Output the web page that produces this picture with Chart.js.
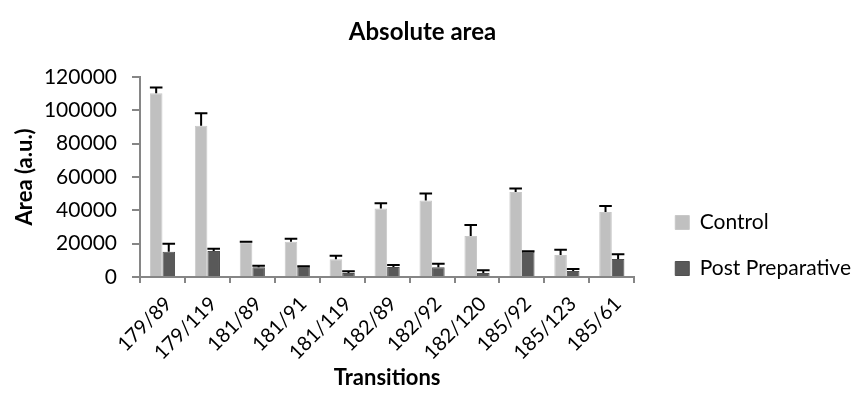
<!DOCTYPE html>
<html>
<head>
<meta charset="utf-8">
<script src="https://cdn.jsdelivr.net/npm/chart.js@4"></script>
<style>
  html, body { margin: 0; padding: 0; background: #fff; }
  #wrap { width: 857px; height: 405px; }
</style>
</head>
<body>
<div id="wrap"><canvas id="grafico" width="857" height="405"></canvas></div>
<script>
const transicoes = ['179/89', '179/119', '181/89', '181/91', '181/119', '182/89', '182/92', '182/120', '185/92', '185/123', '185/61'];
const controle = [110200, 90600, 20800, 21200, 10600, 41000, 45800, 24600, 51000, 13200, 39000];
const controleErro = [3400, 7600, 400, 1800, 2200, 3200, 4200, 6600, 2000, 3200, 3600];
const posPrep = [15200, 15600, 5800, 6200, 2400, 6000, 5800, 2400, 15200, 3600, 10800];
const posPrepErro = [4800, 1400, 1000, 300, 1000, 1200, 2200, 1600, 200, 1200, 2800];
const ticksY = [0, 20000, 40000, 60000, 80000, 100000, 120000];

const fonte = 'Lato, "Open Sans", sans-serif';
const corEixo = '#868686';

// barras de erro (só o lado de cima, como no Excel)
const barrasErro = {
  id: 'barrasErro',
  afterDatasetsDraw(chart) {
    const c = chart.ctx;
    const y = chart.scales.y;
    c.save();
    c.strokeStyle = '#000';
    c.lineWidth = 2;
    chart.data.datasets.forEach((ds, i) => {
      const meta = chart.getDatasetMeta(i);
      meta.data.forEach((bar, j) => {
        const topo = y.getPixelForValue(ds.data[j] + ds.erros[j]);
        const meia = bar.width / 2;
        c.beginPath();
        c.moveTo(bar.x, bar.y);
        c.lineTo(bar.x, topo);
        c.moveTo(bar.x - meia, topo);
        c.lineTo(bar.x + meia, topo);
        c.stroke();
      });
    });
    c.restore();
  }
};

// empurra a legenda um pouco para a direita e para baixo
const ajusteLegenda = {
  id: 'ajusteLegenda',
  afterLayout(chart) {
    const l = chart.legend;
    l.left += 16; l.right += 16;
    l.top += 187; l.bottom += 187;
  }
};

new Chart(document.getElementById('grafico'), {
  type: 'bar',
  data: {
    labels: transicoes,
    datasets: [
      {
        label: 'Control',
        data: controle,
        erros: controleErro,
        backgroundColor: '#c0c0c0',
        borderColor: '#c8c8c8',
        borderWidth: 1
      },
      {
        label: 'Post Preparative',
        data: posPrep,
        erros: posPrepErro,
        backgroundColor: '#595959',
        borderColor: '#505050',
        borderWidth: 1
      }
    ]
  },
  options: {
    responsive: false,
    animation: false,
    devicePixelRatio: 1,
    layout: { padding: { top: 0, right: 12, bottom: 0, left: 0 } },
    datasets: { bar: { categoryPercentage: 0.56, barPercentage: 1.0 } },
    plugins: {
      title: {
        display: true,
        text: 'Absolute area',
        color: '#000',
        font: { family: fonte, size: 24, weight: 'bold' },
        padding: { top: 18, bottom: 30 }
      },
      legend: {
        position: 'right',
        align: 'start',
        labels: {
          color: '#000',
          font: { family: fonte, size: 21 },
          boxWidth: 14,
          boxHeight: 14,
          padding: 25
        }
      },
      tooltip: { enabled: false }
    },
    scales: {
      x: {
        grid: { display: true, drawOnChartArea: false, offset: true, color: corEixo, tickLength: 6, lineWidth: 2 },
        border: { color: corEixo, width: 2 },
        ticks: { color: '#000', font: { family: fonte, size: 20 }, minRotation: 45, maxRotation: 45, padding: 9, labelOffset: 6 },
        title: { display: true, text: 'Transitions', color: '#000', font: { family: fonte, size: 22, weight: 'bold' }, padding: { top: 0, bottom: 14 } },
        afterFit(scale) { scale.height = 128; }
      },
      y: {
        min: 0,
        max: 120000,
        afterBuildTicks(scale) { scale.ticks = ticksY.map(v => ({ value: v })); },
        grid: { display: true, drawOnChartArea: false, color: corEixo, tickLength: 8, lineWidth: 2 },
        border: { color: corEixo, width: 2 },
        ticks: { color: '#000', font: { family: fonte, size: 21 }, padding: 15, callback: v => String(v) },
        title: { display: true, text: 'Area (a.u.)', color: '#000', font: { family: fonte, size: 22, weight: 'bold' }, padding: { top: 12, bottom: 0 } },
        afterFit(scale) { scale.width = 140; }
      }
    }
  },
  plugins: [barrasErro, ajusteLegenda]
});
</script>
</body>
</html>
